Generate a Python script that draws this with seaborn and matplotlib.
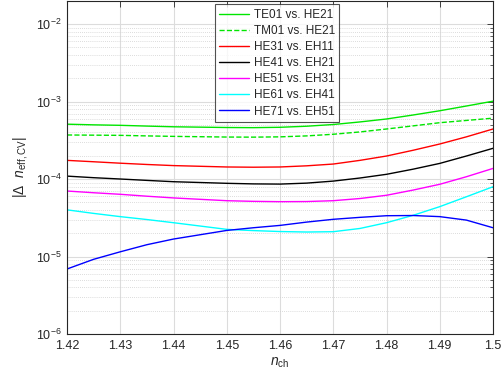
import numpy as np
import pandas as pd
import matplotlib
matplotlib.use("Agg")
import matplotlib.pyplot as plt
import seaborn as sns
from matplotlib.ticker import FixedLocator, FixedFormatter, LogLocator, NullFormatter

# ---- data ----
n_ch = [1.42, 1.425, 1.43, 1.435, 1.44, 1.45, 1.455, 1.46, 1.465, 1.47,
        1.475, 1.48, 1.485, 1.49, 1.495, 1.5]

te01_he21 = [5.1e-4, 5.0e-4, 4.93e-4, 4.82e-4, 4.72e-4, 4.62e-4, 4.6e-4, 4.65e-4,
             4.8e-4, 5.05e-4, 5.45e-4, 5.95e-4, 6.7e-4, 7.6e-4, 8.75e-4, 1.01e-3]
tm01_he21 = [3.7e-4, 3.68e-4, 3.66e-4, 3.6e-4, 3.55e-4, 3.48e-4, 3.47e-4, 3.5e-4,
             3.6e-4, 3.78e-4, 4.05e-4, 4.42e-4, 4.85e-4, 5.33e-4, 5.7e-4, 6.1e-4]
he31_eh11 = [1.74e-4, 1.67e-4, 1.6e-4, 1.54e-4, 1.49e-4, 1.43e-4, 1.42e-4, 1.43e-4,
             1.48e-4, 1.56e-4, 1.74e-4, 1.98e-4, 2.35e-4, 2.83e-4, 3.5e-4, 4.42e-4]
he41_eh21 = [1.09e-4, 1.04e-4, 1.0e-4, 9.6e-5, 9.23e-5, 8.8e-5, 8.65e-5, 8.6e-5,
             8.85e-5, 9.4e-5, 1.03e-4, 1.15e-4, 1.34e-4, 1.59e-4, 1.98e-4, 2.49e-4]
he51_eh31 = [7.0e-5, 6.65e-5, 6.35e-5, 6.0e-5, 5.7e-5, 5.25e-5, 5.15e-5, 5.1e-5,
             5.12e-5, 5.25e-5, 5.6e-5, 6.17e-5, 7.2e-5, 8.55e-5, 1.07e-4, 1.37e-4]
he61_eh41 = [4.0e-5, 3.6e-5, 3.27e-5, 3.0e-5, 2.73e-5, 2.24e-5, 2.16e-5, 2.1e-5,
             2.07e-5, 2.09e-5, 2.3e-5, 2.73e-5, 3.4e-5, 4.4e-5, 5.9e-5, 7.95e-5]
he71_eh51 = [6.9e-6, 9.2e-6, 1.15e-5, 1.42e-5, 1.68e-5, 2.17e-5, 2.35e-5, 2.52e-5,
             2.78e-5, 3.02e-5, 3.2e-5, 3.36e-5, 3.38e-5, 3.27e-5, 2.95e-5, 2.35e-5]

labels = ["TE01 vs. HE21", "TM01 vs. HE21", "HE31 vs. EH11", "HE41 vs. EH21",
          "HE51 vs. EH31", "HE61 vs. EH41", "HE71 vs. EH51"]
series = [te01_he21, tm01_he21, he31_eh11, he41_eh21, he51_eh31, he61_eh41, he71_eh51]
colors = ["#00e600", "#00e600", "#ff0000", "#000000", "#ff00ff", "#00ffff", "#0000ff"]
styles = ["-", "--", "-", "-", "-", "-", "-"]

xticks = [1.42, 1.43, 1.44, 1.45, 1.46, 1.47, 1.48, 1.49, 1.5]
xticklabels = ["1.42", "1.43", "1.44", "1.45", "1.46", "1.47", "1.48", "1.49", "1.5"]

# ---- style ----
sns.set_theme(style="white")
plt.rcParams["font.family"] = ["Liberation Sans", "DejaVu Sans"]
plt.rcParams["mathtext.fontset"] = "custom"
plt.rcParams["mathtext.rm"] = "Liberation Sans"
plt.rcParams["mathtext.it"] = "Liberation Sans:italic"
plt.rcParams["mathtext.bf"] = "Liberation Sans:bold"

txt = "#262626"

fig = plt.figure(figsize=(5.02, 3.89), dpi=100)
ax = fig.add_axes([67 / 502, 1 - 334 / 389, 426 / 502, 333.3 / 389])

df = pd.DataFrame({"n_ch": np.tile(n_ch, len(series)),
                   "val": np.concatenate(series),
                   "pair": np.repeat(labels, len(n_ch))})

for lab, col, ls in zip(labels, colors, styles):
    sub = df[df["pair"] == lab]
    sns.lineplot(data=sub, x="n_ch", y="val", ax=ax, color=col, linestyle=ls,
                 linewidth=1.0, label=lab, sort=True, estimator=None)

ax.set_yscale("log")
ax.set_xlim(1.42, 1.5)
ax.set_ylim(1e-6, 2e-2)

ax.xaxis.set_major_locator(FixedLocator(xticks))
ax.xaxis.set_major_formatter(FixedFormatter(xticklabels))
ax.yaxis.set_major_locator(LogLocator(base=10, numticks=10))
ax.yaxis.set_minor_locator(LogLocator(base=10, subs=np.arange(2, 10), numticks=20))
ax.yaxis.set_minor_formatter(NullFormatter())

ax.grid(True, which="major", color="#dcdcdc", linewidth=0.8, linestyle="-")
ax.grid(True, which="minor", axis="y", color="#d0d0d0", linewidth=0.6, linestyle=(0, (1, 1.5)))
ax.set_axisbelow(True)

ax.tick_params(axis="both", which="both", direction="in", top=True, right=True,
               colors=txt, labelsize=9, labelcolor=txt)
ax.tick_params(axis="both", which="major", length=4, width=0.6, pad=4)
ax.tick_params(axis="y", which="minor", length=2, width=0.5)
for s in ax.spines.values():
    s.set_color(txt)
    s.set_linewidth(0.8)

ax.set_xlabel(r"$n_{\mathrm{ch}}$", fontsize=10, color=txt, labelpad=3)
ax.set_ylabel(r"|$\Delta$  $n_{\mathrm{eff,CV}}$|", fontsize=10, color=txt, labelpad=4)

leg = ax.legend(loc="upper center", bbox_to_anchor=(0.493, 0.99), fontsize=8.5,
                frameon=True, fancybox=False, handlelength=2.5, handletextpad=0.4,
                labelspacing=0.35, borderpad=0.4, borderaxespad=0)
leg.get_frame().set_edgecolor(txt)
leg.get_frame().set_linewidth(0.8)
for t in leg.get_texts():
    t.set_color(txt)

fig.savefig("out.png", dpi=100)
